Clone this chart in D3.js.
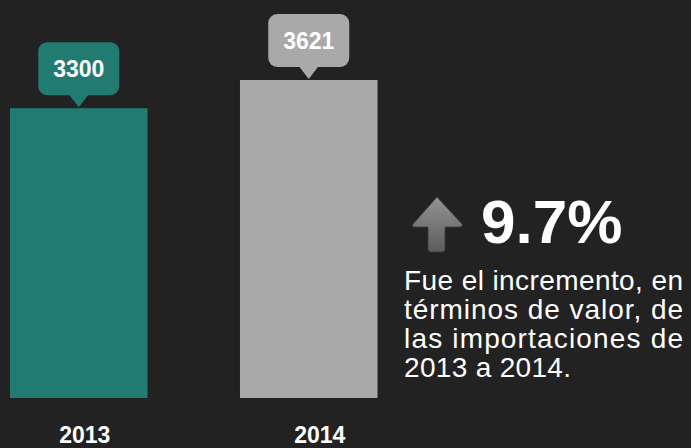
<!DOCTYPE html>
<html>
<head>
<meta charset="utf-8">
<script src="https://cdn.jsdelivr.net/npm/d3@7"></script>
<style>
  html, body { margin: 0; padding: 0; background: #222222; }
  svg { display: block; }
</style>
</head>
<body>
<div id="chart"></div>
<script>
// Importaciones por año (valor)
var years = ["2013", "2014"];
var values = [3300, 3621];
var barColors = ["#227b70", "#a9a9a9"];
var pctLabel = "9.7%";
var noteLines = ["Fue el incremento, en", "términos de valor, de", "las importaciones de", "2013 a 2014."];

var W = 691, H = 448;

var svg = d3.select("#chart").append("svg")
    .attr("width", W)
    .attr("height", H);

svg.append("rect")
    .attr("width", W).attr("height", H)
    .attr("fill", "#222222");

var x = d3.scaleBand()
    .domain(years)
    .range([10, 377.5])
    .paddingInner(0.402)
    .paddingOuter(0);

var y = d3.scaleLinear()
    .domain([0, 3621])
    .range([398, 80]);

// bars
svg.selectAll(".bar")
    .data(years)
    .enter().append("rect")
    .attr("class", "bar")
    .attr("x", function(d) { return x(d); })
    .attr("y", function(d, i) { return y(values[i]); })
    .attr("width", x.bandwidth())
    .attr("height", function(d, i) { return y(0) - y(values[i]); })
    .attr("fill", function(d, i) { return barColors[i]; });

// value bubbles over each bar
var bubble = svg.selectAll(".bubble")
    .data(years)
    .enter().append("g")
    .attr("class", "bubble")
    .attr("transform", function(d, i) {
        return "translate(" + (x(d) + x.bandwidth() / 2) + "," + y(values[i]) + ")";
    });

bubble.append("rect")
    .attr("x", -40.5).attr("y", -66)
    .attr("width", 81).attr("height", 53)
    .attr("rx", 9).attr("ry", 9)
    .attr("fill", function(d, i) { return barColors[i]; });

bubble.append("path")
    .attr("d", "M-10,-14 L10,-14 L0,-1 Z")
    .attr("fill", function(d, i) { return barColors[i]; });

bubble.append("text")
    .attr("x", 0).attr("y", -31)
    .attr("text-anchor", "middle")
    .attr("font-family", "'Liberation Sans', Arial, sans-serif")
    .attr("font-weight", "bold")
    .attr("font-size", 23)
    .attr("fill", "#ffffff")
    .text(function(d, i) { return values[i]; });

// year labels under the bars
svg.selectAll(".year")
    .data(years)
    .enter().append("text")
    .attr("class", "year")
    .attr("x", function(d, i) { return x(d) + x.bandwidth() / 2 + (i == 0 ? 6 : 11); })
    .attr("y", 443)
    .attr("text-anchor", "middle")
    .attr("font-family", "'Liberation Sans', Arial, sans-serif")
    .attr("font-weight", "bold")
    .attr("font-size", 23)
    .attr("fill", "#ffffff")
    .text(function(d) { return d; });

// arrow + percentage
var defs = svg.append("defs");
var grad = defs.append("linearGradient")
    .attr("id", "arrowGrad")
    .attr("x1", 0).attr("y1", 0).attr("x2", 0).attr("y2", 1);
grad.append("stop").attr("offset", "0%").attr("stop-color", "#939393");
grad.append("stop").attr("offset", "100%").attr("stop-color", "#5c5c5c");

svg.append("path")
    .attr("d", "M437,197 L462,224 Q463,227 459,227 L445,227 L445,249 Q445,252 442,252 L431,252 Q428,252 428,249 L428,227 L415,227 Q411,227 413,224 Z")
    .attr("fill", "url(#arrowGrad)")
    .attr("stroke", "#3a3a3a")
    .attr("stroke-width", 0.8)
    .attr("stroke-linejoin", "round");

svg.append("text")
    .attr("x", 481).attr("y", 243)
    .attr("font-family", "'Liberation Sans', Arial, sans-serif")
    .attr("font-weight", "bold")
    .attr("font-size", 62)
    .attr("fill", "#ffffff")
    .text(pctLabel);

// justified note
svg.selectAll(".note")
    .data(noteLines)
    .enter().append("text")
    .attr("class", "note")
    .attr("x", 404)
    .attr("y", function(d, i) { return 290 + i * 29; })
    .attr("font-family", "'Liberation Sans', Arial, sans-serif")
    .attr("font-size", 28)
    .attr("fill", "#ffffff")
    .attr("textLength", function(d, i) { return i < 3 ? 279 : 167; })
    .attr("lengthAdjust", "spacing")
    .text(function(d) { return d; });
</script>
</body>
</html>
